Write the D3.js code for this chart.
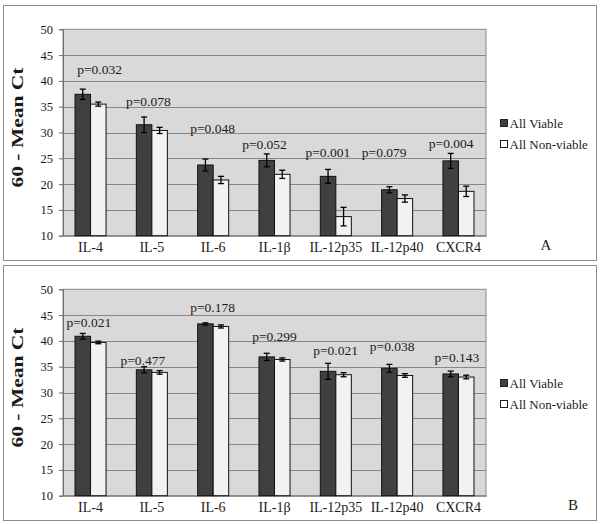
<!DOCTYPE html>
<html>
<head>
<meta charset="utf-8">
<script src="https://cdn.jsdelivr.net/npm/d3@7"></script>
<style>
  html, body { margin: 0; padding: 0; background: #ffffff; }
  svg { display: block; }
  text { font-family: "Liberation Serif", "Times New Roman", serif; fill: #1a1a1a; }
</style>
</head>
<body>
<svg id="chart" width="600" height="524"></svg>
<script>
// ---------- data ----------
const categories = ["IL-4", "IL-5", "IL-6", "IL-1\u03B2", "IL-12p35", "IL-12p40", "CXCR4"];
const seriesNames = ["All Viable", "All Non-viable"];
const yTicks = [10, 15, 20, 25, 30, 35, 40, 45, 50];

// Panel A
const viableA       = [37.4, 31.5, 23.7, 24.6, 21.5, 18.9, 24.5];
const viableErrA    = [1.0, 1.5, 1.15, 1.25, 1.35, 0.6, 1.45];
const nonViableA    = [35.5, 30.4, 20.8, 21.9, 13.7, 17.2, 18.6];
const nonViableErrA = [0.4, 0.6, 0.7, 0.8, 1.8, 0.7, 1.0];
const pValuesA      = ["p=0.032", "p=0.078", "p=0.048", "p=0.052", "p=0.001", "p=0.079", "p=0.004"];

// Panel B
const viableB       = [40.9, 34.4, 43.3, 36.9, 34.1, 34.7, 33.6];
const viableErrB    = [0.55, 0.6, 0.2, 0.7, 1.55, 0.75, 0.55];
const nonViableB    = [39.7, 33.9, 42.8, 36.4, 33.45, 33.3, 33.0];
const nonViableErrB = [0.25, 0.35, 0.3, 0.3, 0.4, 0.35, 0.35];
const pValuesB      = ["p=0.021", "p=0.477", "p=0.178", "p=0.299", "p=0.021", "p=0.038", "p=0.143"];

// ---------- layout (annotation placement, not data) ----------
const pLabelLevelA = [42.3, 36.0, 30.9, 27.8, 26.1, 26.1, 28.0]; // label centre, in axis units
const pLabelDxA    = [9, -3.5, -0.6, -10, -8, -13, -7.3];         // px shift from group centre
const pLabelLevelB = [43.6, 36.2, 46.5, 40.9, 38.1, 39.0, 36.8];
const pLabelDxB    = [-1.7, -9, -0.6, 0, -0.3, -5, -1.5];

const svg = d3.select("#chart");
const colors = { dark: "#404040", light: "#f2f2f2", plotBg: "#d9d9d9", grid: "#878787", frame: "#8c8c8c" };

function drawPanel(cfg) {
  const { top, viable, viableErr, nonViable, nonViableErr, pValues, pLevel, pDx, letter, letterX } = cfg;
  const g = svg.append("g");

  // outer frame
  g.append("rect")
    .attr("x", 3.5).attr("y", top + 0.5)
    .attr("width", 593).attr("height", 255)
    .attr("fill", "#ffffff").attr("stroke", colors.frame).attr("stroke-width", 1);

  const plot = { left: 63, right: 486, top: top + 24.3, bottom: top + 230.7 };

  const x = d3.scaleBand().domain(categories)
    .range([plot.left, plot.right])
    .paddingInner(0.494).paddingOuter(0.196);
  const xs = d3.scaleBand().domain(seriesNames).range([0, x.bandwidth()]);
  const y = d3.scaleLinear().domain([10, 50]).range([plot.bottom, plot.top]);

  // plot background
  g.append("rect")
    .attr("x", plot.left).attr("y", plot.top)
    .attr("width", plot.right - plot.left).attr("height", plot.bottom - plot.top)
    .attr("fill", colors.plotBg).attr("stroke", colors.grid).attr("stroke-width", 1);

  // gridlines
  g.append("g").selectAll("line").data(yTicks.filter(t => t > 10 && t < 50)).join("line")
    .attr("x1", plot.left).attr("x2", plot.right)
    .attr("y1", d => Math.round(y(d)) + 0.5).attr("y2", d => Math.round(y(d)) + 0.5)
    .attr("stroke", colors.grid).attr("stroke-width", 1);

  // y axis
  const yAxis = g.append("g")
    .attr("transform", `translate(${plot.left},0)`)
    .call(d3.axisLeft(y).tickValues(yTicks).tickSize(4).tickPadding(6).tickFormat(d3.format("d")));
  yAxis.select(".domain").attr("stroke", "#6e6e6e");
  yAxis.selectAll(".tick line").attr("stroke", "#6e6e6e");
  yAxis.selectAll("text").attr("font-size", "12.5px").attr("fill", "#1a1a1a")
    .style("font-family", '"Liberation Serif", serif');

  // x axis
  const xAxis = g.append("g")
    .attr("transform", `translate(0,${plot.bottom})`)
    .call(d3.axisBottom(x).tickSize(0).tickPadding(6));
  xAxis.select(".domain").attr("stroke", "#6e6e6e");
  xAxis.selectAll("text").attr("font-size", "14px").attr("fill", "#1a1a1a")
    .style("font-family", '"Liberation Serif", serif');

  const rows = categories.map((c, i) => ({
    c, vals: [
      { s: seriesNames[0], v: viable[i], e: viableErr[i] },
      { s: seriesNames[1], v: nonViable[i], e: nonViableErr[i] }
    ]
  }));

  const grp = g.append("g").selectAll("g").data(rows).join("g")
    .attr("transform", d => `translate(${x(d.c)},0)`);

  grp.selectAll("rect").data(d => d.vals).join("rect")
    .attr("x", d => xs(d.s)).attr("width", xs.bandwidth())
    .attr("y", d => y(d.v)).attr("height", d => y(10) - y(d.v))
    .attr("fill", d => d.s === seriesNames[0] ? colors.dark : colors.light)
    .attr("stroke", "#111").attr("stroke-width", 1);

  // error bars
  const eb = grp.selectAll("g.err").data(d => d.vals).join("g").attr("class", "err");
  const cx = d => xs(d.s) + xs.bandwidth() / 2;
  eb.append("line")
    .attr("x1", cx).attr("x2", cx)
    .attr("y1", d => y(d.v + d.e)).attr("y2", d => y(d.v - d.e))
    .attr("stroke", "#000").attr("stroke-width", 1.3);
  eb.append("line")
    .attr("x1", d => cx(d) - 3).attr("x2", d => cx(d) + 3)
    .attr("y1", d => y(d.v + d.e)).attr("y2", d => y(d.v + d.e))
    .attr("stroke", "#000").attr("stroke-width", 1.3);
  eb.append("line")
    .attr("x1", d => cx(d) - 3).attr("x2", d => cx(d) + 3)
    .attr("y1", d => y(d.v - d.e)).attr("y2", d => y(d.v - d.e))
    .attr("stroke", "#000").attr("stroke-width", 1.3);

  // p-value labels
  g.append("g").selectAll("text").data(categories).join("text")
    .attr("x", (c, i) => x(c) + x.bandwidth() / 2 + pDx[i])
    .attr("y", (c, i) => y(pLevel[i]))
    .attr("dy", "0.35em")
    .attr("text-anchor", "middle")
    .attr("font-size", "13.5px")
    .text((c, i) => pValues[i]);

  // y title
  g.append("text")
    .attr("transform", `translate(23,${top + 122.5}) rotate(-90)`)
    .attr("text-anchor", "middle")
    .attr("font-size", "16px").attr("font-weight", "bold")
    .attr("textLength", 120).attr("lengthAdjust", "spacingAndGlyphs")
    .text("60 - Mean Ct");

  // legend
  const leg = g.append("g").selectAll("g").data(seriesNames).join("g")
    .attr("transform", (d, i) => `translate(500,${top + 118 + i * 21})`);
  leg.append("rect")
    .attr("x", 0.5).attr("y", -3.5).attr("width", 7).attr("height", 7)
    .attr("fill", (d, i) => i === 0 ? colors.dark : "#ffffff")
    .attr("stroke", "#222").attr("stroke-width", 1);
  leg.append("text")
    .attr("x", 9.5).attr("dy", "0.35em")
    .attr("font-size", "13px")
    .text(d => d);

  // panel letter
  g.append("text")
    .attr("x", letterX).attr("y", top + 240).attr("dy", "0.35em")
    .attr("text-anchor", "middle").attr("font-size", "15px")
    .text(letter);
}

drawPanel({ top: 5, viable: viableA, viableErr: viableErrA, nonViable: nonViableA, nonViableErr: nonViableErrA,
  pValues: pValuesA, pLevel: pLabelLevelA, pDx: pLabelDxA, letter: "A", letterX: 546 });
drawPanel({ top: 265, viable: viableB, viableErr: viableErrB, nonViable: nonViableB, nonViableErr: nonViableErrB,
  pValues: pValuesB, pLevel: pLabelLevelB, pDx: pLabelDxB, letter: "B", letterX: 573 });
</script>
</body>
</html>
